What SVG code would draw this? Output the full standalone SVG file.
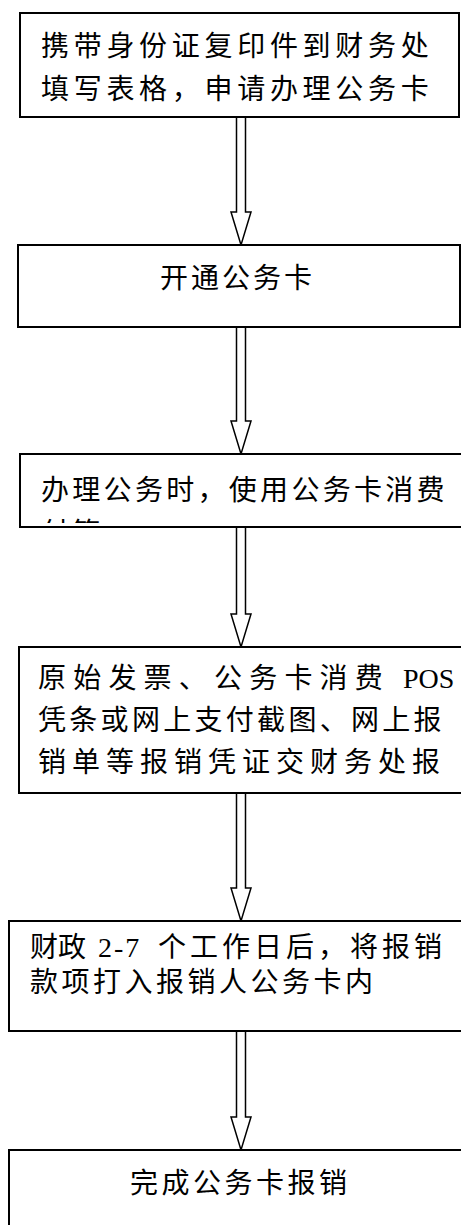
<svg xmlns="http://www.w3.org/2000/svg" width="461" height="1225" viewBox="0 0 461 1225">
<style>
.box{fill:#fff;stroke:#000;stroke-width:2}
.arr{fill:#fff;stroke:#000;stroke-width:1.5;stroke-linejoin:miter}
.t{font-family:"Liberation Serif","Noto Sans CJK SC",serif;font-size:28px;fill:#000}
.lat{font-family:"Liberation Serif",serif}
</style>
<defs>
<clipPath id="c3"><rect x="20" y="454" width="450" height="69"/></clipPath>
</defs>
<rect x="0" y="0" width="461" height="1225" fill="#fff"/>
<g id="connectors">
<polygon class="arr" points="236.5,117 245.5,117 245.5,212 251,212 241,245 231,212 236.5,212"/>
<polygon class="arr" points="236.5,327 245.5,327 245.5,421 251,421 241,454 231,421 236.5,421"/>
<polygon class="arr" points="236.5,527 245.5,527 245.5,614 251,614 241,647 231,614 236.5,614"/>
<polygon class="arr" points="236.5,793 245.5,793 245.5,888 251,888 241,921 231,888 236.5,888"/>
<polygon class="arr" points="236.5,1031 245.5,1031 245.5,1117 251,1117 241,1150 231,1117 236.5,1117"/>
</g>
<g id="n1">
<rect class="box" x="20" y="13" width="439" height="104"/>
<text class="t" x="41" y="56" letter-spacing="4.7">携带身份证复印件到财务处</text>
<text class="t" x="41" y="99" letter-spacing="4.7">填写表格，申请办理公务卡</text>
</g>
<g id="n2">
<rect class="box" x="18" y="245" width="442" height="82"/>
<text class="t" x="160" y="288" letter-spacing="3">开通公务卡</text>
</g>
<g id="n3">
<rect class="box" x="20" y="454" width="460" height="73"/>
<text class="t" x="41" y="500" letter-spacing="3.3">办理公务时，使用公务卡消费</text>
<text class="t" x="41" y="543" letter-spacing="3.3" clip-path="url(#c3)">付等</text>
</g>
<g id="n4">
<rect class="box" x="19" y="647" width="460" height="146"/>
<text class="t" x="38" y="688" letter-spacing="7.2">原始发票、公务卡消费</text>
<text class="t lat" x="403" y="688" font-size="26">POS</text>
<text class="t" x="38" y="730" letter-spacing="3.3">凭条或网上支付截图、网上报</text>
<text class="t" x="38" y="772" letter-spacing="6">销单等报销凭证交财务处报</text>
</g>
<g id="n5">
<rect class="box" x="9" y="921" width="470" height="110"/>
<text class="t" x="30" y="957" letter-spacing="0">财政</text>
<text class="t lat" x="98" y="957" letter-spacing="2">2-7</text>
<text class="t" x="158" y="957" letter-spacing="4">个工作日后，将报销</text>
<text class="t" x="30" y="992" letter-spacing="3.5">款项打入报销人公务卡内</text>
</g>
<g id="n6">
<rect class="box" x="9" y="1150" width="470" height="100"/>
<text class="t" x="130" y="1193" letter-spacing="3.5">完成公务卡报销</text>
</g>
</svg>
